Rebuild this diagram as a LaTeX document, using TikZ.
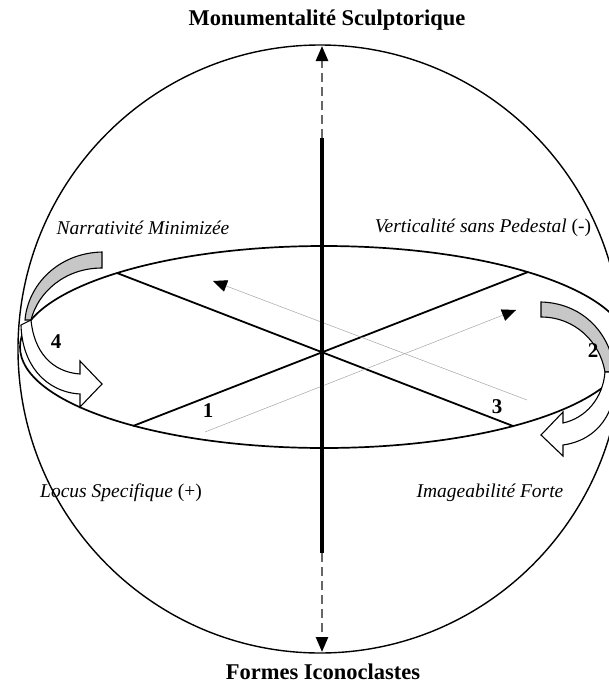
\documentclass[tikz,border=0pt]{standalone}
\usepackage{fontspec}
\setmainfont{Liberation Serif}
\usetikzlibrary{arrows.meta}
\begin{document}
\begin{tikzpicture}[x=1pt,y=-1pt,
  title/.style={font=\fontsize{22.5}{26}\selectfont\bfseries},
  lab/.style={font=\fontsize{19.5}{23}\selectfont\itshape},
  num/.style={font=\fontsize{21}{24}\selectfont\bfseries},
  axisline/.style={line width=3.4pt},
  dashaxis/.style={line width=2.6pt, draw=black!60, dash pattern=on 9pt off 5pt},
  crossline/.style={line width=1.8pt},
  thinarrow/.style={draw=black!35, line width=0.5pt, -{Triangle[length=14pt,width=12pt,color=black]}},
  tipped/.style={-{Triangle[length=15pt,width=12pt,color=black]}},
  backband/.style={draw, line width=1.1pt, fill=black!22},
  frontband/.style={draw, line width=1.1pt, fill=white},
]
\useasboundingbox (0,0) rectangle (609,689);
\fill[white] (0,0) rectangle (609,689);
\clip (0,0) rectangle (609,689);

% sphere and disc
\draw[line width=1.4pt] (320,349) ellipse [x radius=302pt, y radius=304pt];
\draw[line width=1.7pt] (324,347) ellipse [x radius=304pt, y radius=101pt];

% cross lines
\coordinate (a1) at (117,273);
\coordinate (a2) at (513,426);
\coordinate (b1) at (528,272);
\coordinate (b2) at (133,426);
\draw[crossline] (a1) -- (a2);
\draw[crossline] (b1) -- (b2);

% thin arrows
\coordinate (s1) at (205,432);
\coordinate (t1) at (516,310);
\coordinate (s3) at (527,400);
\coordinate (t3) at (213,281);
\draw[thinarrow] (s1) -- (t1);
\draw[thinarrow] (s3) -- (t3);

% vertical axis
\coordinate (axtop) at (322,46);
\coordinate (axm1) at (322,138);
\coordinate (axm2) at (322,553);
\coordinate (axbot) at (322,652);
\draw[dashaxis, tipped] (axm1) -- (axtop);
\draw[axisline] (axm1) -- (axm2);
\draw[dashaxis, tipped] (axm2) -- (axbot);

% left curved arrow (4)
\draw[backband] (102,252) .. controls (58,253) and (28,285) .. (25,320)
  -- (31,320) .. controls (38,292) and (65,268) .. (102,268) -- cycle;
\draw[frontband] (31,320) .. controls (34,352) and (52,372) .. (80,374)
  -- (80,361) -- (102,384) -- (80,407) -- (80,394)
  .. controls (46,392) and (22,365) .. (21,325) -- cycle;

% right curved arrow (2)
\draw[backband] (541,302) .. controls (580,303) and (610,330) .. (615,372)
  -- (605,372) .. controls (600,342) and (575,317) .. (541,317) -- cycle;
\draw[frontband] (605,372) .. controls (603,398) and (586,418) .. (563,423)
  -- (563,412) -- (541,435) -- (563,456) -- (563,445)
  .. controls (598,440) and (618,412) .. (615,372) -- cycle;

% texts
\node[title] (top) at (327,20) {Monumentalité Sculptorique};
\node[title] (bot) at (323,672) {Formes Iconoclastes};
\node[lab] (nm) at (143,228) {Narrativité Minimizée};
\node[lab] (vs) at (483,228) {Verticalité sans Pedestal \upshape(-)};
\node[lab] (ls) at (121,493) {Locus Specifique \upshape(+)};
\node[lab] (imf) at (490,493) {Imageabilité Forte};
\node[num] (n1) at (208,411) {1};
\node[num] (n2) at (593,351) {2};
\node[num] (n3) at (497,407) {3};
\node[num] (n4) at (56,342) {4};
\end{tikzpicture}
\end{document}
